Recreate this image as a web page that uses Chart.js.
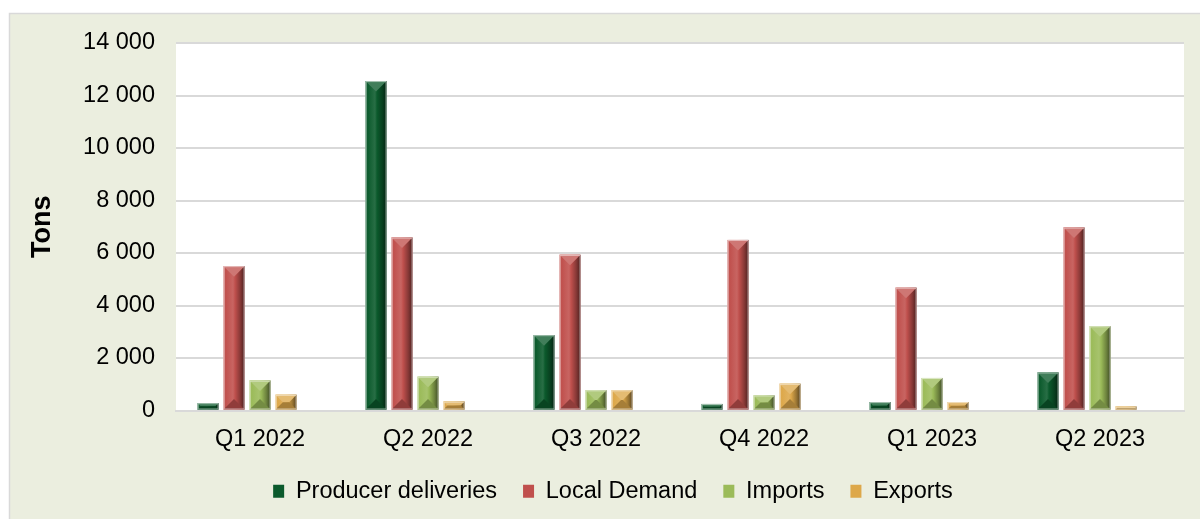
<!DOCTYPE html>
<html>
<head>
<meta charset="utf-8">
<script src="https://cdn.jsdelivr.net/npm/chart.js@4"></script>
<style>
  html, body { margin: 0; padding: 0; background: #fff; }
  #wrap { width: 1200px; height: 519px; }
</style>
</head>
<body>
<div id="wrap"><canvas id="myChart"></canvas></div>
<script>
const categories = ['Q1 2022', 'Q2 2022', 'Q3 2022', 'Q4 2022', 'Q1 2023', 'Q2 2023'];
const producerDeliveries = [280, 12550, 2870, 250, 320, 1450];
const localDemand = [5500, 6590, 5930, 6500, 4680, 6970];
const imports = [1140, 1290, 770, 575, 1240, 3210];
const exportsData = [600, 340, 770, 1020, 320, 150];
const yTicks = [0, 2000, 4000, 6000, 8000, 10000, 12000, 14000];

const fmt = v => String(v).replace(/\B(?=(\d{3})+(?!\d))/g, ' ');

// mix a hex colour with white (amt>0) or black (amt<0)
const shade = (hex, amt) => {
  const n = parseInt(hex.slice(1), 16);
  let r = n >> 16, g = (n >> 8) & 255, b = n & 255;
  const t = amt > 0 ? 255 : 0, p = Math.abs(amt);
  r = Math.round(r + (t - r) * p); g = Math.round(g + (t - g) * p); b = Math.round(b + (t - b) * p);
  return `rgb(${r},${g},${b})`;
};

// panel background + white plot area
const backdrop = {
  id: 'backdrop',
  afterLayout(chart) {
    // legend sits a bit right of centre in the original
    if (chart.legend) { chart.legend.left += 21; chart.legend.right += 21; }
  },
  beforeDraw(chart) {
    const {ctx, chartArea: a} = chart;
    ctx.save();
    ctx.fillStyle = '#fff';
    ctx.fillRect(0, 0, chart.width, chart.height);
    ctx.fillStyle = '#EBEEDF';
    ctx.fillRect(9, 13, chart.width, chart.height);
    ctx.strokeStyle = '#D9D9D9';
    ctx.lineWidth = 1.5;
    ctx.strokeRect(9.5, 13.5, chart.width + 10, chart.height + 10);
    ctx.fillStyle = '#fff';
    ctx.fillRect(a.left, a.top, a.right - a.left, a.bottom - a.top);
    ctx.restore();
  }
};

// bevel shading on top of each bar drawn by chart.js
const bevel = {
  id: 'bevel',
  afterDatasetsDraw(chart) {
    const ctx = chart.ctx;
    chart.data.datasets.forEach((ds, i) => {
      const c = ds.bevelColor;
      if (!c) return;
      const meta = chart.getDatasetMeta(i);
      if (meta.hidden) return;
      meta.data.forEach(el => {
        const {x, y, base, width} = el.getProps(['x', 'y', 'base', 'width'], true);
        const l = x - width / 2, r = x + width / 2, t = Math.min(y, base), b = Math.max(y, base);
        const h = b - t;
        if (!(h > 0)) return;
        const d = Math.min(width / 2, h / 2);
        ctx.save();
        const g = ctx.createLinearGradient(l, 0, r, 0);
        g.addColorStop(0, shade(c, 0.35));
        g.addColorStop(0.1, c);
        g.addColorStop(0.45, shade(c, 0.12));
        g.addColorStop(0.55, c);
        g.addColorStop(0.8, shade(c, -0.3));
        g.addColorStop(1, shade(c, -0.6));
        ctx.fillStyle = g;
        ctx.fillRect(l, t, width, h);
        // top facet
        ctx.beginPath();
        ctx.moveTo(l, t); ctx.lineTo(r, t); ctx.lineTo(r - d, t + d); ctx.lineTo(l + d, t + d); ctx.closePath();
        ctx.fillStyle = shade(c, 0.22);
        ctx.fill();
        // bottom facet
        ctx.beginPath();
        ctx.moveTo(l, b); ctx.lineTo(r, b); ctx.lineTo(r - d, b - d); ctx.lineTo(l + d, b - d); ctx.closePath();
        ctx.fillStyle = shade(c, -0.25);
        ctx.fill();
        ctx.strokeStyle = 'rgba(255,255,255,0.55)';
        ctx.lineWidth = 1;
        ctx.strokeRect(l + 0.5, t + 0.5, width - 1, h - 1);
        ctx.restore();
      });
    });
  }
};

const mkSet = (label, data, color) => ({
  label: label,
  data: data,
  bevelColor: color,
  backgroundColor: color,
  borderWidth: 0,
  categoryPercentage: 0.774,
  barPercentage: 0.81
});

const ctx = document.getElementById('myChart');

new Chart(ctx, {
  type: 'bar',
  data: {
    labels: categories,
    datasets: [
      mkSet('Producer deliveries', producerDeliveries, '#0B5A2C'),
      mkSet('Local Demand', localDemand, '#C0504D'),
      mkSet('Imports', imports, '#9BBB59'),
      mkSet('Exports', exportsData, '#DDA84A'),
      // empty slot kept as in the source chart (bars sit left of the tick)
      { label: '', data: categories.map(() => null), backgroundColor: 'rgba(0,0,0,0)', categoryPercentage: 0.774, barPercentage: 0.81 }
    ]
  },
  options: {
    responsive: true,
    maintainAspectRatio: false,
    animation: false,
    layout: { padding: { top: 43, right: 16, bottom: 6, left: 0 } },
    font: { family: '"Liberation Sans", Arial, sans-serif' },
    scales: {
      x: {
        grid: { display: false },
        border: { display: true, color: '#D9D9D9', width: 2 },
        ticks: { color: '#000', padding: 7, maxRotation: 0, font: { size: 23.5 } },
        afterFit: s => { s.height = 43; }
      },
      y: {
        min: 0,
        max: 14000,
        afterBuildTicks: s => { s.ticks = yTicks.map(v => ({ value: v })); },
        grid: { color: '#D9D9D9', lineWidth: 2, drawTicks: false },
        border: { display: false },
        ticks: { color: '#000', padding: 21, font: { size: 23.5 }, callback: v => fmt(v) },
        title: { display: true, text: 'Tons', color: '#000', font: { size: 27, weight: 'bold' }, padding: { top: 26, bottom: 0 } },
        afterFit: s => { s.width = 176; }
      }
    },
    plugins: {
      legend: {
        position: 'bottom',
        labels: {
          color: '#000',
          font: { size: 23.5 },
          boxWidth: 11,
          boxHeight: 13,
          padding: 26,
          filter: item => item.text !== ''
        }
      },
      tooltip: { enabled: false }
    }
  },
  plugins: [backdrop, bevel]
});
</script>
</body>
</html>
